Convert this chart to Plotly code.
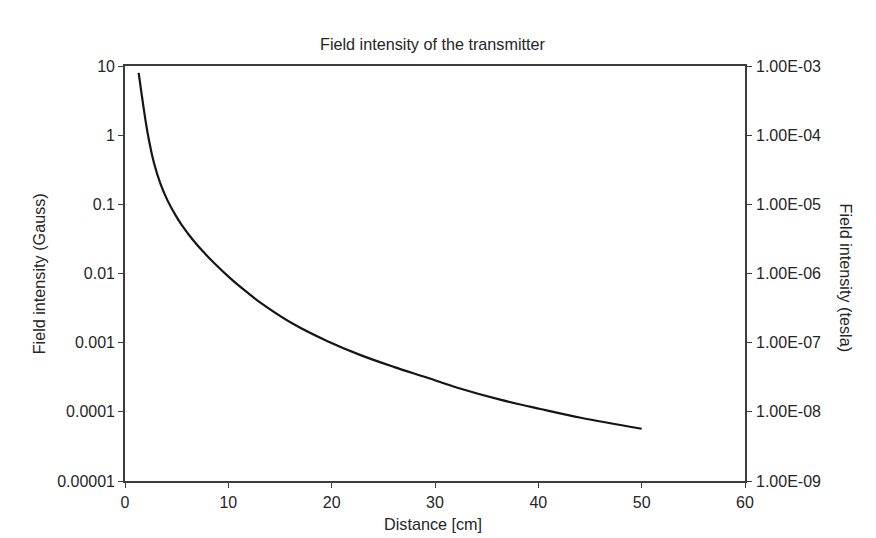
import plotly.graph_objects as go

# Data (distance in cm, field in Gauss)
distance_cm = [1.32, 1.65, 2.0, 2.3, 2.8, 3.4, 4.1, 4.9, 5.5, 6.5, 7.6, 8.6,
               10.2, 11.8, 13.1, 16.3, 19.6, 22.8, 26.0, 29.2, 32.5, 36.3,
               40.2, 44.1, 50.0]
field_gauss = [7.94, 3.55, 1.58, 0.871, 0.398, 0.204, 0.115, 0.0692, 0.0501,
               0.0316, 0.0204, 0.0143, 0.00851, 0.00537, 0.00380, 0.00186,
               0.00105, 0.000661, 0.000447, 0.000313, 0.000216, 0.000150,
               0.000110, 0.0000822, 0.0000569]
GAUSS_TO_TESLA = 1e-4
field_tesla = [v * GAUSS_TO_TESLA for v in field_gauss]

left_tickvals = [1e-5, 1e-4, 1e-3, 1e-2, 1e-1, 1, 10]
left_ticktext = ["0.00001", "0.0001", "0.001", "0.01", "0.1", "1", "10"]
right_tickvals = [1e-9, 1e-8, 1e-7, 1e-6, 1e-5, 1e-4, 1e-3]
right_ticktext = ["1.00E-09", "1.00E-08", "1.00E-07", "1.00E-06",
                  "1.00E-05", "1.00E-04", "1.00E-03"]
x_tickvals = [0, 10, 20, 30, 40, 50, 60]

title_text = "Field intensity of the transmitter"
x_title = "Distance [cm]"
y_title = "Field intensity (Gauss)"
y2_title = "Field intensity (tesla)"

FONT = "Liberation Sans, Arial, sans-serif"
AXC = "#3c3c3c"
TXT = "#262626"
TICK_SIZE = 16
TITLE_SIZE = 16.2

fig = go.Figure()
fig.add_trace(go.Scatter(
    x=distance_cm, y=field_gauss, mode="lines",
    line=dict(color="#151515", width=2.2, shape="spline", smoothing=1.0),
    showlegend=False, hoverinfo="x+y"))
fig.add_trace(go.Scatter(
    x=distance_cm, y=field_tesla, mode="lines", yaxis="y2",
    line=dict(color="rgba(0,0,0,0)", width=0),
    showlegend=False, hoverinfo="skip"))

fig.update_layout(
    width=876, height=538,
    margin=dict(l=117, r=139, t=58, b=65),
    paper_bgcolor="white", plot_bgcolor="white",
    font=dict(family=FONT, size=TICK_SIZE, color=TXT),
    xaxis=dict(range=[0, 60], tickvals=x_tickvals, showgrid=False, zeroline=False,
               showline=True, linecolor=AXC, linewidth=1.6, mirror=True,
               ticks="outside", ticklen=5, tickcolor=AXC, tickwidth=1,
               ticklabelstandoff=1,
               tickfont=dict(size=TICK_SIZE, color=TXT)),
    yaxis=dict(type="log", range=[-5, 1], tickvals=left_tickvals,
               ticktext=left_ticktext, showgrid=False, zeroline=False,
               showline=True, linecolor=AXC, linewidth=1.6,
               ticks="outside", ticklen=5, tickcolor=AXC, tickwidth=1,
               tickfont=dict(size=TICK_SIZE, color=TXT)),
    yaxis2=dict(type="log", range=[-9, -3], tickvals=right_tickvals,
                ticktext=right_ticktext, overlaying="y", side="right",
                showgrid=False, zeroline=False, showline=True, linecolor=AXC,
                linewidth=1.6, ticks="outside", ticklen=5, tickcolor=AXC,
                tickwidth=1, ticklabelstandoff=1,
                tickfont=dict(size=TICK_SIZE, color=TXT)),
    annotations=[
        dict(text=title_text, xref="paper", yref="paper", x=0.497, y=1.053,
             xanchor="center", yanchor="middle", showarrow=False,
             font=dict(size=TITLE_SIZE, color=TXT)),
        dict(text=x_title, xref="paper", yref="paper", x=0.497, y=-0.1025,
             xanchor="center", yanchor="middle", showarrow=False,
             font=dict(size=TITLE_SIZE, color=TXT)),
        dict(text=y_title, xref="paper", yref="paper", x=-0.139, y=0.5,
             xanchor="center", yanchor="middle", showarrow=False, textangle=-90,
             font=dict(size=TITLE_SIZE, color=TXT)),
        dict(text=y2_title, xref="paper", yref="paper", x=1.163, y=0.49,
             xanchor="center", yanchor="middle", showarrow=False, textangle=90,
             font=dict(size=TITLE_SIZE, color=TXT)),
    ],
)

fig.write_html("out.html")
